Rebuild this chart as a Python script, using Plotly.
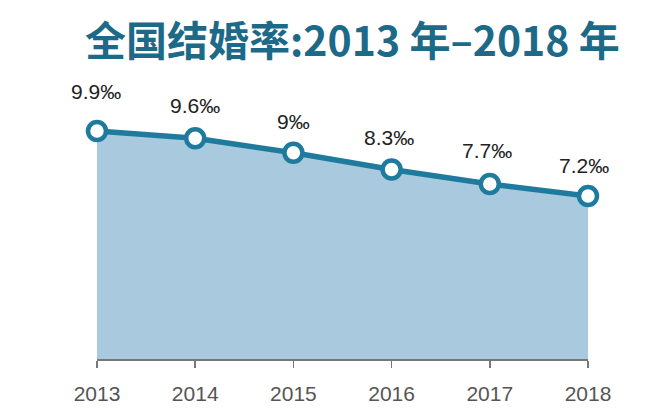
import plotly.graph_objects as go

years = [2013, 2014, 2015, 2016, 2017, 2018]
rates = [9.9, 9.6, 9.0, 8.3, 7.7, 7.2]
labels = ["9.9‰", "9.6‰", "9‰", "8.3‰", "7.7‰", "7.2‰"]
tick_text = ["2013", "2014", "2015", "2016", "2017", "2018"]

# label offsets (style only)
label_yshift = [40, 33, 31, 32, 34, 31]
label_xshift = [-1, 0, 0, -3, -3, -4]

line_color = "#1f7b9e"
fill_color = "#a9c9df"

fig = go.Figure()
fig.add_trace(go.Scatter(
    x=years, y=rates,
    mode="lines+markers",
    fill="tozeroy",
    fillcolor=fill_color,
    line=dict(color=line_color, width=5.5),
    marker=dict(symbol="circle", size=18, color="white",
                line=dict(color=line_color, width=4.5)),
    hoverinfo="skip",
    showlegend=False,
    cliponaxis=False,
))

for x, y, t, dy, dx in zip(years, rates, labels, label_yshift, label_xshift):
    fig.add_annotation(x=x, y=y, text=t, showarrow=False, xshift=dx, yshift=dy,
                       font=dict(family="Liberation Sans, Arial, sans-serif", size=21, color="#222222"))

fig.add_annotation(xref="paper", yref="paper", x=0.52, y=1.0, yshift=62,
                   xanchor="center", yanchor="middle",
                   text="<b>全国结婚率:2013 年–2018 年</b>", showarrow=False,
                   font=dict(family="Noto Sans CJK SC, sans-serif", size=41, color="#1c6a88"))

fig.update_layout(
    width=658, height=409,
    margin=dict(l=97, r=70, t=100, b=50),
    paper_bgcolor="white", plot_bgcolor="white",
    xaxis=dict(range=[2013, 2018], tickvals=years, ticktext=tick_text,
               showgrid=False, zeroline=False, showline=True,
               linecolor="#777777", linewidth=1.5,
               ticks="outside", ticklen=7, tickcolor="#777777", tickwidth=1.5,
               ticklabelstandoff=8, automargin=False,
               tickfont=dict(family="Liberation Sans, Arial, sans-serif", size=21, color="#555555"),
               fixedrange=True),
    yaxis=dict(range=[0.43, 11.19], visible=False, showgrid=False, zeroline=False,
               automargin=False, fixedrange=True),
)

fig.write_html("out.html", config={"displayModeBar": False, "staticPlot": True},
               post_script="document.body.style.margin='0';")
